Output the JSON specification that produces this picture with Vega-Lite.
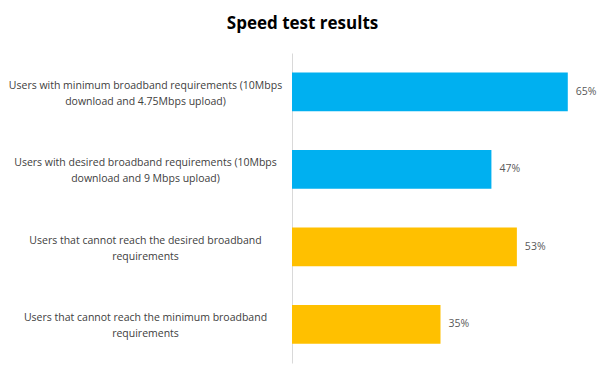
{
  "$schema": "https://vega.github.io/schema/vega-lite/v6.json",
  "width": 297,
  "height": 310,
  "autosize": "none",
  "padding": {"left": 292, "top": 53, "right": 15, "bottom": 15},
  "background": "white",
  "title": {
    "text": "Speed test results",
    "font": "Open Sans",
    "fontSize": 17,
    "fontWeight": "bold",
    "color": "#000000",
    "anchor": "middle",
    "frame": "group",
    "dx": -138,
    "baseline": "alphabetic",
    "offset": 7
  },
  "data": {
    "values": [
      {"label": "Users with minimum broadband requirements (10Mbps|download and 4.75Mbps upload)", "value": 0.65, "group": "met"},
      {"label": "Users with desired broadband requirements (10Mbps|download and 9 Mbps upload)", "value": 0.47, "group": "met"},
      {"label": "Users that cannot reach the desired broadband|requirements", "value": 0.53, "group": "unmet"},
      {"label": "Users that cannot reach the minimum broadband|requirements", "value": 0.35, "group": "unmet"}
    ]
  },
  "encoding": {
    "y": {
      "field": "label",
      "type": "nominal",
      "sort": null,
      "scale": {"paddingInner": 0.5, "paddingOuter": 0.25},
      "axis": {
        "title": null,
        "labelExpr": "split(datum.label, '|')",
        "labelAlign": "center",
        "labelBaseline": "middle",
        "labelPadding": 147,
        "labelOffset": -6,
        "labelLineHeight": 16,
        "labelFont": "Open Sans",
        "labelFontSize": 10.5,
        "labelColor": "#404040",
        "labelLimit": 400,
        "ticks": false,
        "tickSize": 0,
        "domain": true,
        "domainColor": "#D9D9D9",
        "domainWidth": 1,
        "grid": false
      }
    },
    "x": {
      "field": "value",
      "type": "quantitative",
      "scale": {"domain": [0, 0.7], "nice": false},
      "axis": null
    }
  },
  "layer": [
    {
      "mark": {"type": "bar"},
      "encoding": {
        "color": {
          "field": "group",
          "type": "nominal",
          "scale": {"domain": ["met", "unmet"], "range": ["#00B0F0", "#FFC000"]},
          "legend": null
        }
      }
    },
    {
      "mark": {"type": "text", "align": "left", "baseline": "middle", "dx": 8, "font": "Open Sans", "fontSize": 10.5, "color": "#595959"},
      "encoding": {
        "text": {"field": "value", "type": "quantitative", "format": ".0%"}
      }
    }
  ],
  "config": {
    "view": {"stroke": null}
  }
}
